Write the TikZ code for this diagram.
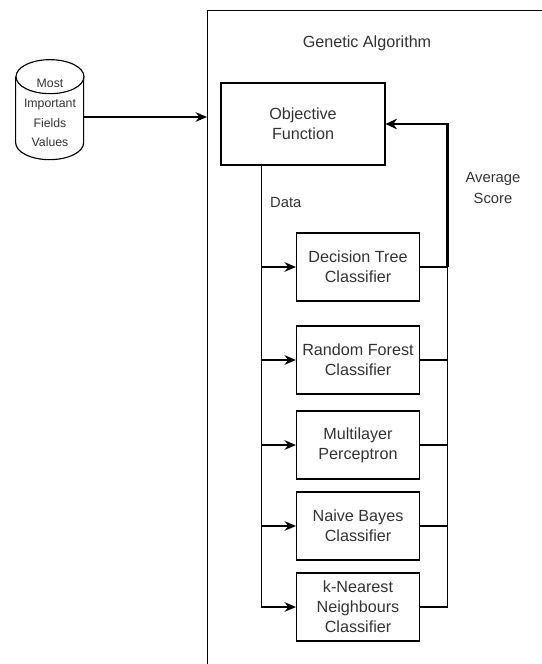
\documentclass[tikz,border=0pt]{standalone}
\usepackage{fontspec}
\setmainfont{Liberation Sans}
\usetikzlibrary{arrows.meta}
\definecolor{txtgray}{HTML}{333333}

\begin{document}
\begin{tikzpicture}[
    x=0.02cm, y=-0.02cm,
    frame/.style={rectangle, draw, line width=0.6pt, anchor=north west, minimum width=8cm, minimum height=14cm},
    block/.style={rectangle, draw, line width=0.65pt, align=center, text=txtgray, font=\fontsize{9.2}{11.4}\selectfont},
    model/.style={block, minimum width=2.46cm, minimum height=1.36cm},
    store/.style={rectangle, minimum width=1.36cm, minimum height=2cm, align=center, text=txtgray, font=\fontsize{7}{11.2}\selectfont},
    lbl/.style={text=txtgray, align=center, font=\fontsize{8.4}{11.4}\selectfont},
    line/.style={line width=0.65pt},
    feed/.style={-{Stealth[length=6.5pt, width=5.5pt]}, line width=0.65pt},
    score/.style={-{Stealth[length=6.5pt, width=6pt]}, line width=1.3pt}
  ]
    \clip (0,0) rectangle (542,664);

    \node[frame] (ga) at (207,10) {};
    \node[lbl, font=\fontsize{9.2}{11.4}\selectfont] (title) at (367,43) {Genetic Algorithm};

    \node[store] (db) at (50,113) {Most\\Important\\Fields\\Values};
    \draw[line] (db.north) ++(0,14) ellipse [x radius=34, y radius=17];
    \draw[line] (db.north west) ++(0,14) -- ++(0,66)
      arc[start angle=180, end angle=0, x radius=34, y radius=17] -- ++(0,-66);

    \node[block, minimum width=3.28cm, minimum height=1.64cm] (obj) at (303,124) {Objective\\Function};

    \node[model] (dt) at (358,267) {Decision Tree\\Classifier};
    \node[model] (rf) at (358,360) {Random Forest\\Classifier};
    \node[model] (mlp) at (358,445) {Multilayer\\Perceptron};
    \node[model] (nb) at (358,526) {Naive Bayes\\Classifier};
    \node[model] (knn) at (358,607) {k-Nearest\\Neighbours\\Classifier};

    \node[lbl, anchor=west] (data) at (264,202) {Data};
    \node[lbl] (avg) at (493,188) {Average\\Score};

    \path (db.east) ++(0,4) coordinate (out);
    \draw[feed] (out) -- (ga.west |- out);

    \path (obj.south west) ++(41,0) coordinate (bus);
    \path (obj.east) ++(62,0) coordinate (col);
    \draw[line] (bus) -- (bus |- knn.west);
    \foreach \m in {dt,rf,mlp,nb,knn} {
      \draw[feed] (bus |- \m.west) -- (\m.west);
      \draw[line] (\m.east) -- (col |- \m.east);
    }
    \draw[line] (col |- knn.east) -- (col |- dt.east);
    \draw[score] (col |- dt.east) -- (col) -- (obj.east);
  \end{tikzpicture}
\end{document}
